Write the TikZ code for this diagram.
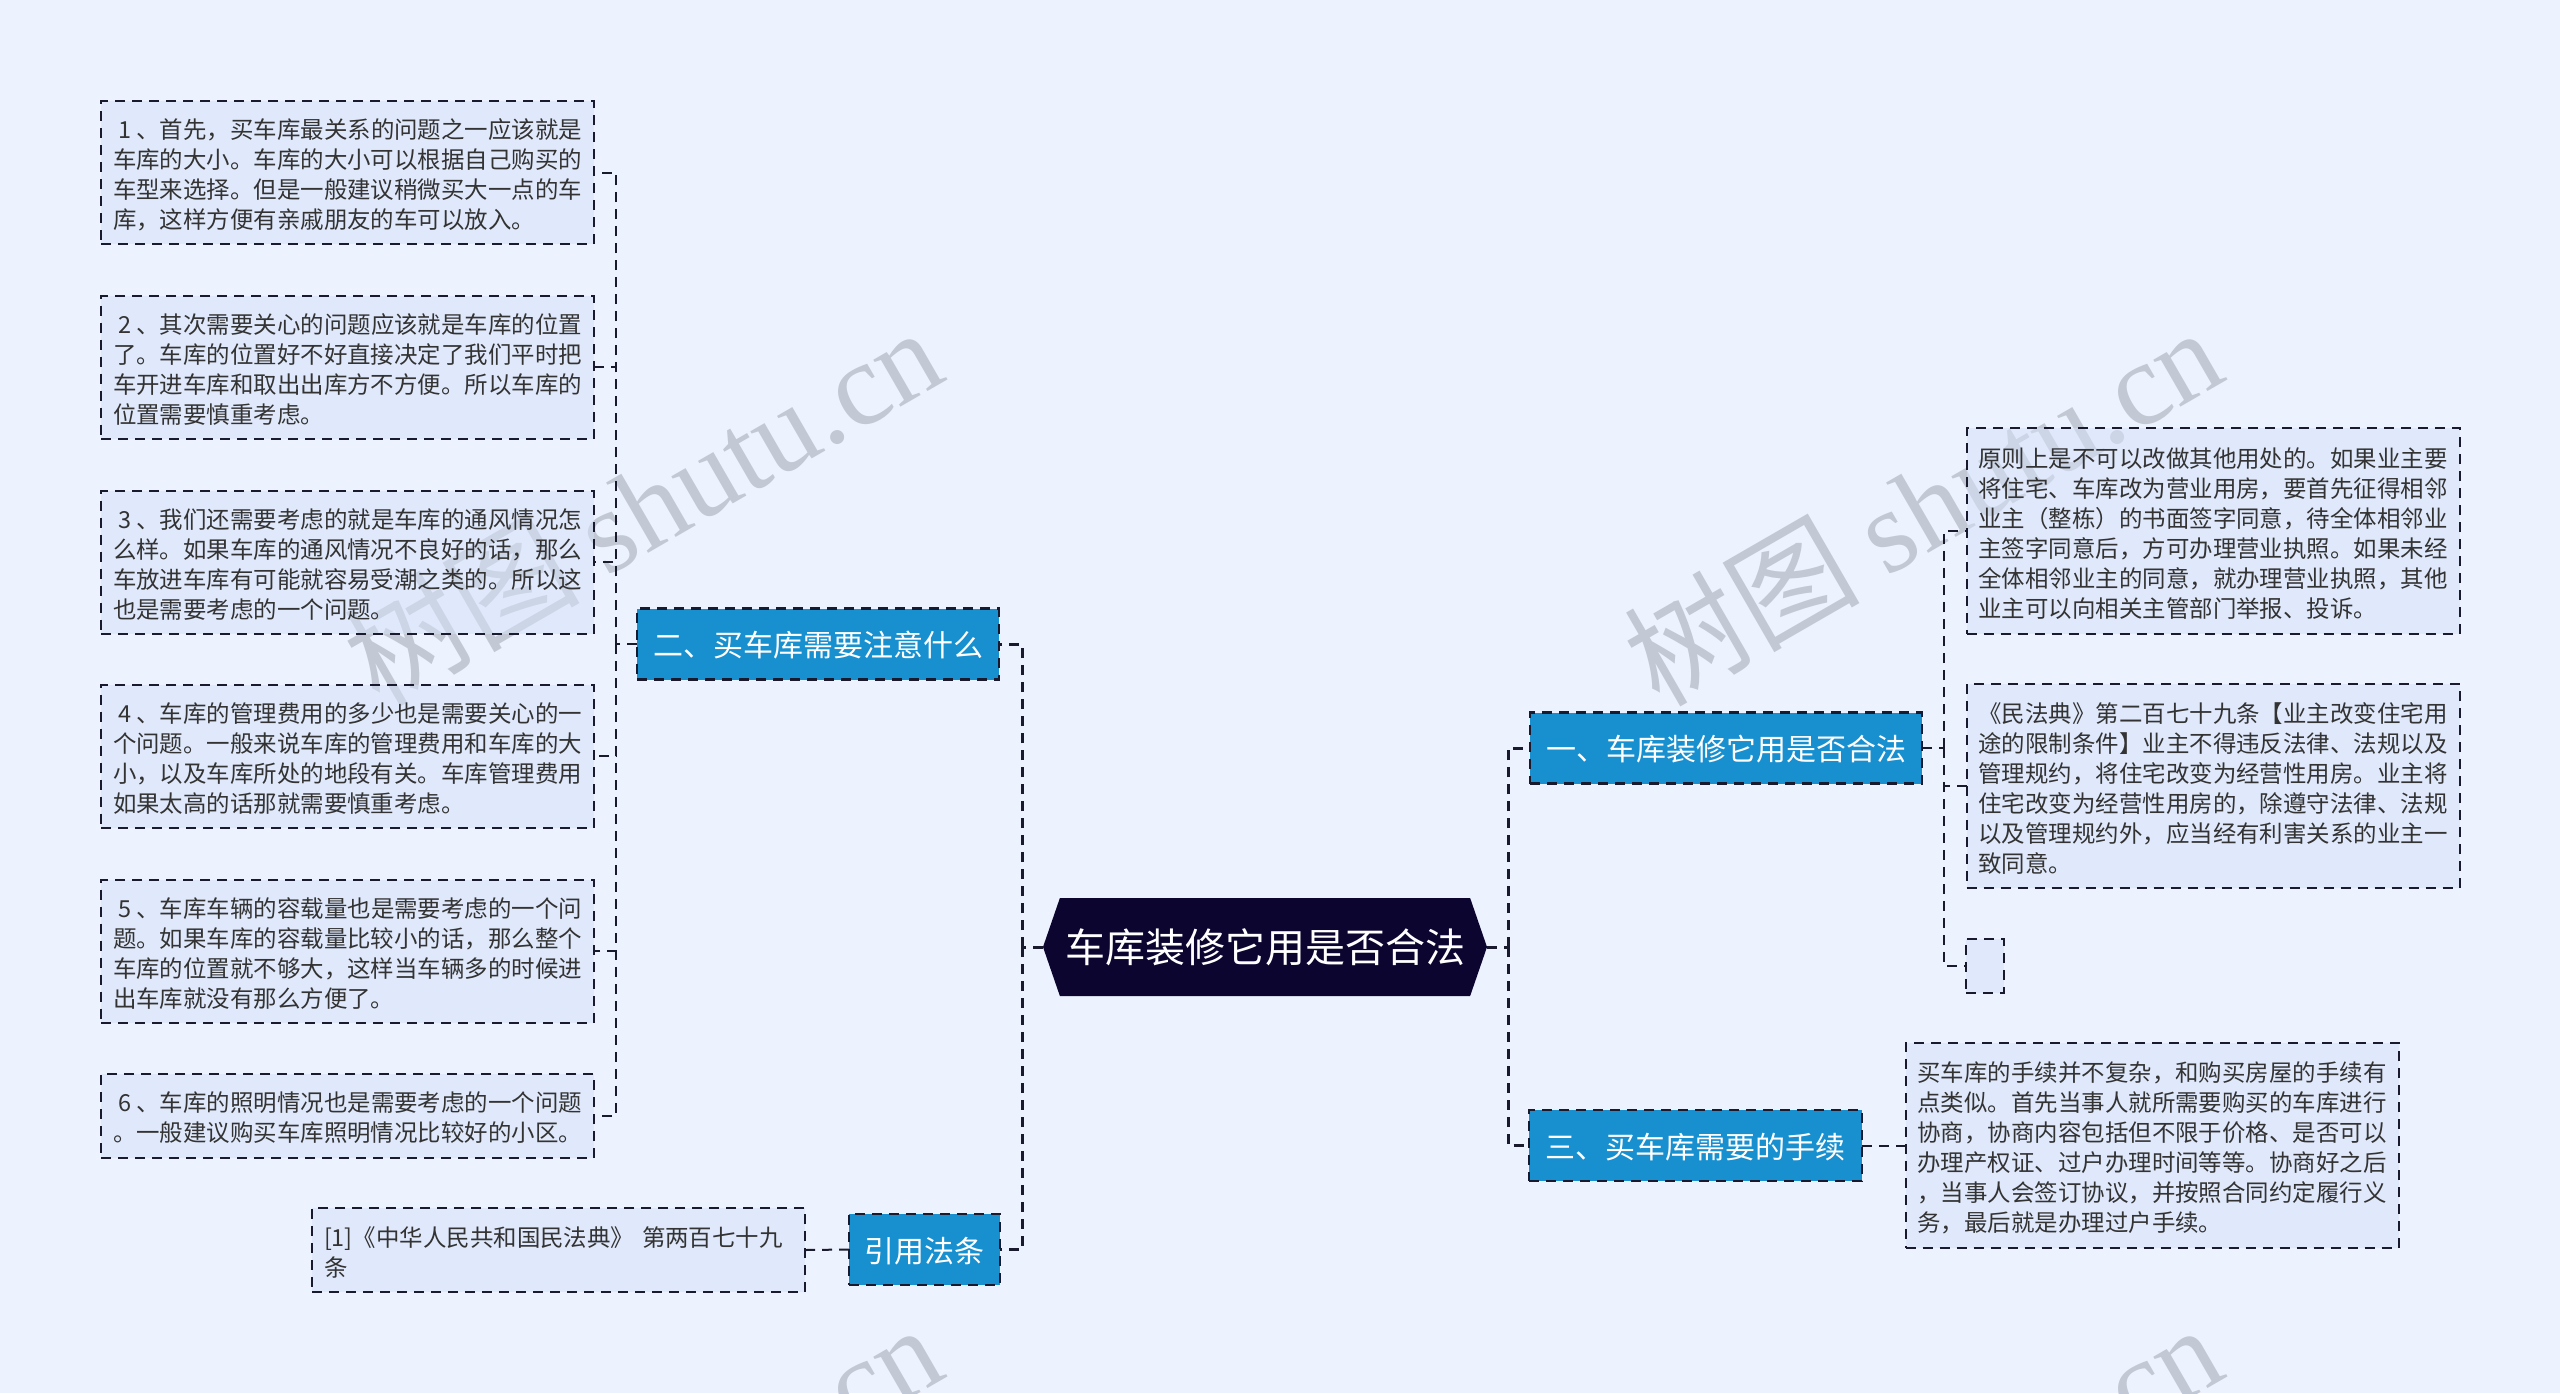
\documentclass[tikz,border=0pt]{standalone}
\usepackage{fontspec}
\setmainfont{Noto Sans CJK SC}
\newfontfamily\markfont{Liberation Serif}
\usetikzlibrary{shapes.symbols}
\definecolor{pagebg}{HTML}{EDF3FE}
\definecolor{leaffill}{HTML}{D5E1F9}
\definecolor{branchfill}{HTML}{1890D0}
\definecolor{rootfill}{HTML}{0B0530}
\definecolor{linkcol}{HTML}{1A1A2E}
\definecolor{markcol}{HTML}{C3C9D4}
\newcommand{\leadnum}[1]{\hspace{0.25em}#1\hspace{0.2em}、}
\tikzset{
    dashline/.style={dash pattern=on 10pt off 7pt},
    leafbox/.style={draw=linkcol, line width=2pt, dashline, fill=leaffill, fill opacity=0.5, text opacity=1,
        align=left, text width=469pt, inner xsep=12pt, inner ysep=0pt, outer sep=0pt, text=black!80,
        execute at begin node={\rule{0pt}{24pt}}, font=\fontsize{23.45}{30}\selectfont},
    branchbox/.style={draw=linkcol, line width=2.5pt, dashline, fill=branchfill, text=white,
        text height=28pt, text depth=3pt, inner sep=0pt, outer sep=0pt, minimum height=71pt,
        font=\fontsize{30}{36}\selectfont},
    rootbox/.style={shape=signal, signal to=east and west, signal pointer angle=142, fill=rootfill, text=white,
        text height=36pt, text depth=6pt, inner sep=0pt, outer sep=0pt, minimum width=444pt, minimum height=98pt,
        font=\fontsize{40}{46}\selectfont},
    rootlink/.style={draw=linkcol, line width=3pt, dashline},
    leaflink/.style={draw=linkcol, line width=2pt, dashline},
    markbox/.style={rotate=30, text=markcol, inner sep=0pt, font=\fontsize{118}{120}\selectfont}
}
\begin{document}
\begin{tikzpicture}[x=1pt, y=-1pt]
    % Page
    \fill[pagebg] (0,0) rectangle (2560,1393);
    \useasboundingbox (0,0) rectangle (2560,1393);
    \clip (0,0) rectangle (2560,1393);

    % Watermarks
    \node[markbox] (markA) at (642,505) {树图 {\markfont shutu.cn}};
    \node[markbox] (markB) at (1922,505) {树图 {\markfont shutu.cn}};
    \node[markbox] (markC) at (642,1502) {树图 {\markfont shutu.cn}};
    \node[markbox] (markD) at (1922,1502) {树图 {\markfont shutu.cn}};

    % Root
    \node[rootbox] (root) at (1265,947) {车库装修它用是否合法};

    % Branches
    \node[branchbox, minimum width=362pt] (needs) at (818,644) {二、买车库需要注意什么};
    \node[branchbox, minimum width=151pt] (laws) at (924.5,1249.5) {引用法条};
    \node[branchbox, minimum width=392pt] (legal) at (1726,748) {一、车库装修它用是否合法};
    \node[branchbox, minimum width=333pt] (steps) at (1695.5,1145.5) {三、买车库需要的手续};

    % Left leaves
    \node[leafbox, minimum height=143pt] (needA) at (347.5,172.5) {\leadnum{1}首先，买车库最关系的问题之一应该就是\\车库的大小。车库的大小可以根据自己购买的\\车型来选择。但是一般建议稍微买大一点的车\\库，这样方便有亲戚朋友的车可以放入。};
    \node[leafbox, minimum height=143pt] (needB) at (347.5,367) {\leadnum{2}其次需要关心的问题应该就是车库的位置\\了。车库的位置好不好直接决定了我们平时把\\车开进车库和取出出库方不方便。所以车库的\\位置需要慎重考虑。};
    \node[leafbox, minimum height=143pt] (needC) at (347.5,562) {\leadnum{3}我们还需要考虑的就是车库的通风情况怎\\么样。如果车库的通风情况不良好的话，那么\\车放进车库有可能就容易受潮之类的。所以这\\也是需要考虑的一个问题。};
    \node[leafbox, minimum height=143pt] (needD) at (347.5,756) {\leadnum{4}车库的管理费用的多少也是需要关心的一\\个问题。一般来说车库的管理费用和车库的大\\小，以及车库所处的地段有关。车库管理费用\\如果太高的话那就需要慎重考虑。};
    \node[leafbox, minimum height=143pt] (needE) at (347.5,951) {\leadnum{5}车库车辆的容载量也是需要考虑的一个问\\题。如果车库的容载量比较小的话，那么整个\\车库的位置就不够大，这样当车辆多的时候进\\出车库就没有那么方便了。};
    \node[leafbox, minimum height=84pt] (needF) at (347.5,1116) {\leadnum{6}车库的照明情况也是需要考虑的一个问题\\。一般建议购买车库照明情况比较好的小区。};
    \node[leafbox, minimum height=84pt] (lawA) at (558.5,1250) {[1]《中华人民共和国民法典》 第两百七十九\\条};

    % Right leaves
    \node[leafbox, minimum height=206pt] (legalA) at (2213,531) {原则上是不可以改做其他用处的。如果业主要\\将住宅、车库改为营业用房，要首先征得相邻\\业主（整栋）的书面签字同意，待全体相邻业\\主签字同意后，方可办理营业执照。如果未经\\全体相邻业主的同意，就办理营业执照，其他\\业主可以向相关主管部门举报、投诉。};
    \node[leafbox, minimum height=204pt] (legalB) at (2213,786) {《民法典》第二百七十九条【业主改变住宅用\\途的限制条件】业主不得违反法律、法规以及\\管理规约，将住宅改变为经营性用房。业主将\\住宅改变为经营性用房的，除遵守法律、法规\\以及管理规约外，应当经有利害关系的业主一\\致同意。};
    \node[leafbox, text width=14pt, minimum height=54pt] (legalC) at (1985,966) {};
    \node[leafbox, minimum height=205pt] (stepA) at (2152,1145.5) {买车库的手续并不复杂，和购买房屋的手续有\\点类似。首先当事人就所需要购买的车库进行\\协商，协商内容包括但不限于价格、是否可以\\办理产权证、过户办理时间等等。协商好之后\\，当事人会签订协议，并按照合同约定履行义\\务，最后就是办理过户手续。};

    % Junctions on the spines
    \coordinate (rootL) at (1022,947);
    \coordinate (rootR) at (1508,947);
    \coordinate (needJ) at (616,644);
    \coordinate (legalJ) at (1944,748);

    % Root links
    \draw[rootlink] (root.west) -- (rootL);
    \draw[rootlink] (root.east) -- (rootR);
    \draw[rootlink] (rootL) |- (needs.east);
    \draw[rootlink] (rootL) |- (laws.east);
    \draw[rootlink] (rootR) |- (legal.west);
    \draw[rootlink] (rootR) |- (steps.west);

    % Leaf links
    \draw[leaflink] (needs.west) -- (needJ);
    \draw[leaflink] (needJ) |- (needA.east);
    \draw[leaflink] (needJ) |- (needB.east);
    \draw[leaflink] (needJ) |- (needC.east);
    \draw[leaflink] (needJ) |- (needD.east);
    \draw[leaflink] (needJ) |- (needE.east);
    \draw[leaflink] (needJ) |- (needF.east);
    \draw[leaflink] (laws.west) -- (lawA.east);
    \draw[leaflink] (legal.east) -- (legalJ);
    \draw[leaflink] (legalJ) |- (legalA.west);
    \draw[leaflink] (legalJ) |- (legalB.west);
    \draw[leaflink] (legalJ) |- (legalC.west);
    \draw[leaflink] (steps.east) -- (stepA.west);
\end{tikzpicture}
\end{document}
